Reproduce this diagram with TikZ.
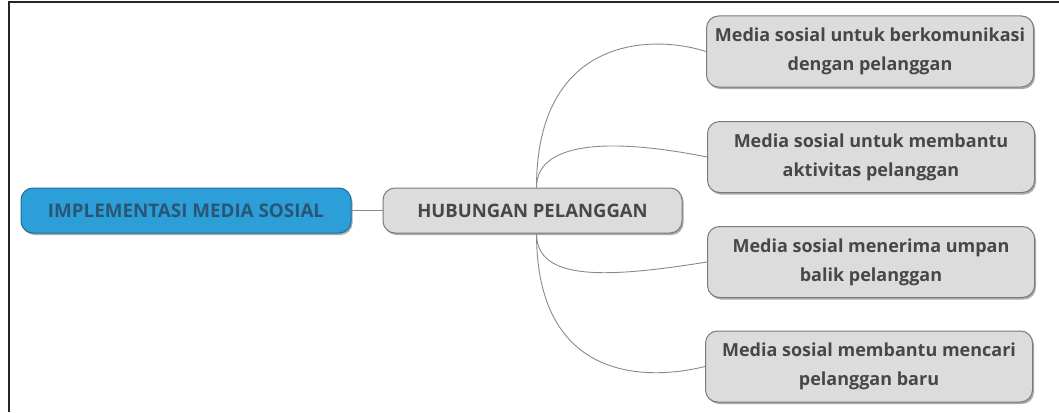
\documentclass[tikz,border=0pt]{standalone}
\usepackage{fontspec}
\setmainfont{Open Sans}
\usetikzlibrary{shadows}
\definecolor{boxfill}{HTML}{DCDCDC}
\definecolor{boxline}{HTML}{7A7A7A}
\definecolor{boxtext}{HTML}{474747}
\definecolor{rootfill}{HTML}{2C9FD9}
\definecolor{rootline}{HTML}{1F6E9A}
\definecolor{roottext}{HTML}{2A5675}
\definecolor{linkcol}{HTML}{8A8A8A}
\tikzset{
  x=1pt, y=-1pt,
  topic/.style={rounded corners=12pt, draw=boxline, line width=1pt, fill=boxfill,
    text=boxtext, font=\fontsize{18}{29}\selectfont\bfseries, align=center,
    inner sep=0pt,
    drop shadow={shadow xshift=1.5pt, shadow yshift=-2pt, opacity=0.55, fill=black!60}},
  leaf/.style={topic, minimum width=327pt, minimum height=71pt},
  root/.style={topic, fill=rootfill, draw=rootline, text=roottext,
    font=\fontsize{18.8}{22}\selectfont\bfseries, minimum width=330pt, minimum height=45pt},
  hubbox/.style={topic, font=\fontsize{18.5}{22}\selectfont\bfseries,
    minimum width=299pt, minimum height=45pt},
  link/.style={draw=linkcol, line width=0.9pt},
  frameline/.style={draw=black!85, line width=2pt}
}
\begin{document}
\begin{tikzpicture}
\useasboundingbox (0,0) rectangle (1059,412);
% outer frame (top and left edges)
\draw[frameline] (8,2.5) -- (1059,2.5);
\draw[frameline] (9,2.5) -- (9,412);

% nodes
\node[root] (root) at (186,210.5) {IMPLEMENTASI MEDIA SOSIAL};
\node[hubbox] (hub) at (532.5,210.5) {HUBUNGAN PELANGGAN};
\node[leaf] (b1) at (870,51.5) {Media sosial untuk berkomunikasi\\dengan pelanggan};
\node[leaf] (b2) at (871,157) {Media sosial untuk membantu\\aktivitas pelanggan};
\node[leaf] (b3) at (871,262) {Media sosial menerima umpan\\balik pelanggan};
\node[leaf] (b4) at (869,366.5) {Media sosial membantu mencari\\pelanggan baru};

% connectors
\draw[link] (root.east) -- (hub.west);
\draw[link] ([xshift=4pt]hub.north) .. controls +(0,-150) and +(-56,-18) .. (b1.west);
\draw[link] ([xshift=4pt]hub.north) .. controls +(0,-45) and +(-100,-20) .. (b2.west);
\draw[link] ([xshift=4pt]hub.south) .. controls +(0,48) and +(-100,16) .. (b3.west);
\draw[link] ([xshift=4pt]hub.south) .. controls +(0,150) and +(-56,14) .. (b4.west);
\end{tikzpicture}
\end{document}
